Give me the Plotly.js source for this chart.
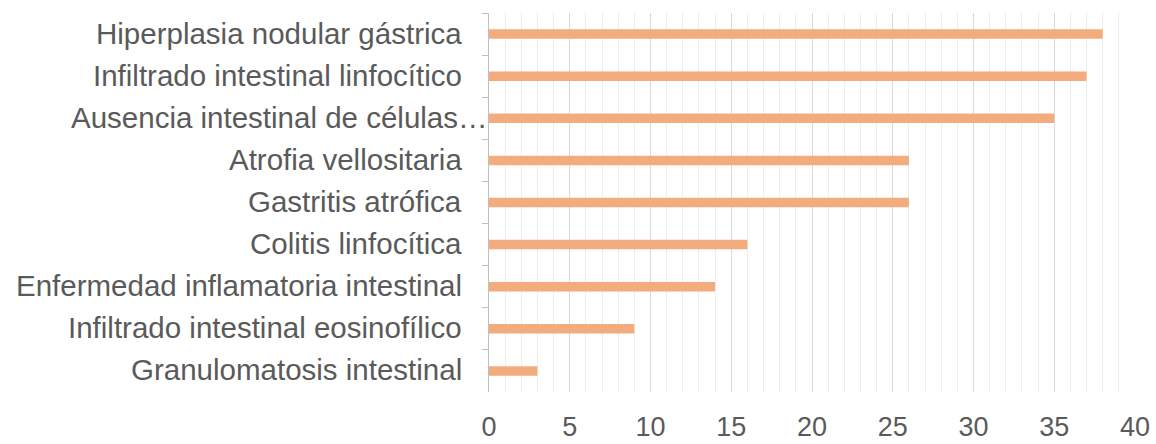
<!DOCTYPE html>
<html>
<head>
<meta charset="utf-8">
<script src="https://cdn.plot.ly/plotly-3.0.1.min.js"></script>
<style>
  html, body { margin: 0; padding: 0; background: #ffffff; }
  #chart { width: 1156px; height: 444px; }
</style>
</head>
<body>
<div id="chart"></div>
<script>
// Hallazgos histológicos, de arriba abajo
const categories = [
  "Hiperplasia nodular gástrica",
  "Infiltrado intestinal linfocítico",
  "Ausencia intestinal de células…",
  "Atrofia vellositaria",
  "Gastritis atrófica",
  "Colitis linfocítica",
  "Enfermedad inflamatoria intestinal",
  "Infiltrado intestinal eosinofílico",
  "Granulomatosis intestinal"
];
const values = [38, 37, 35, 26, 26, 16, 14, 9, 3];
const xTicks = [0, 5, 10, 15, 20, 25, 30, 35, 40];

const textColor = "#5a5a5a";
const fontFamily = "Liberation Sans, Arial, Helvetica, sans-serif";

const trace = {
  type: "bar",
  orientation: "h",
  x: values,
  y: categories,
  marker: { color: "#F2AC7E", line: { width: 0 } },
  hoverinfo: "x+y"
};

// Category labels drawn as annotations so the truncated one can overflow to the right
const labelAnnotations = categories.map((c) => ({
  x: 0, xref: "x",
  y: c, yref: "y",
  text: c,
  showarrow: false,
  xanchor: "right",
  yanchor: "middle",
  xshift: c.endsWith("…") ? 1 : -25,
  yshift: 1,
  font: { family: fontFamily, size: 29.5, color: textColor }
}));

const layout = {
  width: 1156,
  height: 444,
  margin: { l: 489, r: 21, t: 13, b: 52 },
  paper_bgcolor: "#ffffff",
  plot_bgcolor: "#ffffff",
  showlegend: false,
  bargap: 0.775,
  font: { family: fontFamily, size: 28, color: textColor },
  xaxis: {
    range: [0, 40],
    tickvals: xTicks,
    ticktext: xTicks.map(String),
    showgrid: true,
    gridcolor: "#d9d9d9",
    gridwidth: 1,
    minor: { dtick: 1, showgrid: true, gridcolor: "#eeeeee", gridwidth: 1 },
    zeroline: false,
    showline: false,
    ticks: "",
    ticklabelstandoff: 16,
    tickfont: { family: fontFamily, size: 27, color: textColor },
    fixedrange: true
  },
  yaxis: {
    type: "category",
    autorange: "reversed",
    showticklabels: false,
    showline: true,
    linecolor: "#bfbfbf",
    linewidth: 1,
    ticks: "outside",
    tickson: "boundaries",
    ticklen: 6,
    tickcolor: "#bfbfbf",
    showgrid: false,
    zeroline: false,
    fixedrange: true
  },
  annotations: labelAnnotations
};

Plotly.newPlot("chart", [trace], layout, { displayModeBar: false, staticPlot: true });
</script>
</body>
</html>
